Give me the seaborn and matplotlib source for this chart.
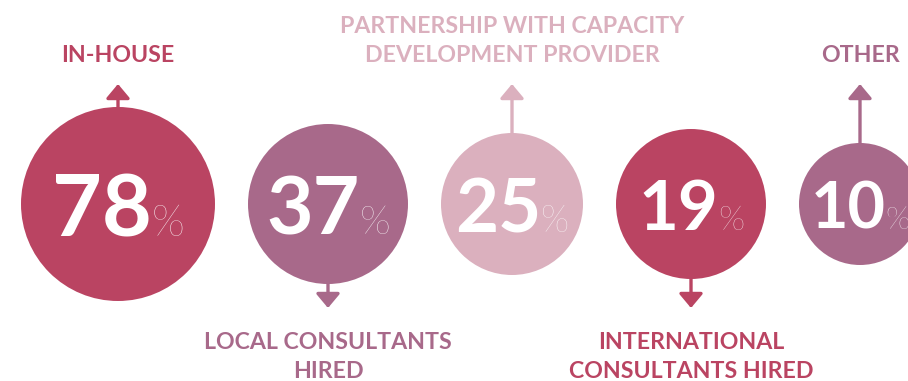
import matplotlib
matplotlib.use("Agg")
import matplotlib.pyplot as plt
import seaborn as sns
import pandas as pd

# ---- data ----
categories = ["IN-HOUSE", "LOCAL CONSULTANTS\nHIRED",
              "PARTNERSHIP WITH CAPACITY\nDEVELOPMENT PROVIDER",
              "INTERNATIONAL\nCONSULTANTS HIRED", "OTHER"]
values = [78, 37, 25, 19, 10]

# ---- style / layout ----
colors = ["#BA4462", "#A8698A", "#DBB0BE", "#BA4462", "#A8698A"]
radii_px = [97, 80, 71, 75, 61]
num_size = [62, 58, 53.5, 49.5, 46.5]
label_side = ["up", "down", "up", "down", "up"]

W, H, DPI = 908, 381, 100
sns.set_theme(style="white")
plt.rcParams["font.family"] = ["Lato", "DejaVu Sans"]

fig = plt.figure(figsize=(W / DPI, H / DPI), dpi=DPI)
ax = fig.add_axes([0, 0, 1, 1])
ax.set_xlim(0, W)
ax.set_ylim(H, 0)
ax.axis("off")

# circle centres: packed left to right with a constant gap
gap, left, cy = 33, 21, 204
cxs = []
x = left
for r in radii_px:
    cxs.append(x + r)
    x += 2 * r + gap

df = pd.DataFrame({"cat": categories, "value": values, "x": cxs, "y": [cy] * len(values)})
sizes = {c: (2 * r * 72 / DPI) ** 2 for c, r in zip(categories, radii_px)}
palette = dict(zip(categories, colors))
sns.scatterplot(data=df, x="x", y="y", hue="cat", size="cat", sizes=sizes,
                palette=palette, linewidth=0, legend=False, ax=ax, alpha=1)

renderer = fig.canvas.get_renderer()
for cx, v, fs, col, r, lab, side in zip(cxs, values, num_size, colors, radii_px,
                                          categories, label_side):
    em = fs * DPI / 72
    base = cy + 1.5 + 0.36 * em
    t1 = ax.text(cx, base, f"{v}", fontsize=fs, fontweight="bold", color="white",
                 ha="left", va="baseline")
    t2 = ax.text(cx, base, "%", fontsize=fs * 0.5, fontweight="light", color="white",
                 ha="left", va="baseline")
    w1 = t1.get_window_extent(renderer).width
    w2 = t2.get_window_extent(renderer).width
    g = 0
    x0 = cx - (w1 + g + w2) / 2
    t1.set_x(x0)
    t2.set_x(x0 + w1 + g)

    lines = lab.split("\n")
    if side == "up":
        ax.annotate("", xy=(cx, 84), xytext=(cx, cy - r),
                    arrowprops=dict(arrowstyle="-|>,head_length=8.6,head_width=7.2",
                                    mutation_scale=1, color=col, lw=2.4,
                                    shrinkA=0, shrinkB=0))
        bl = 62
        for i, ln in enumerate(reversed(lines)):
            ax.text(cx, bl - 29 * i, ln, fontsize=16.7, fontweight="bold", color=col,
                    ha="center", va="baseline")
    else:
        ax.annotate("", xy=(cx, 308), xytext=(cx, cy + r),
                    arrowprops=dict(arrowstyle="-|>,head_length=8.6,head_width=7.2",
                                    mutation_scale=1, color=col, lw=2.4,
                                    shrinkA=0, shrinkB=0))
        bl = 349
        for i, ln in enumerate(lines):
            ax.text(cx, bl + 29 * i, ln, fontsize=16.7, fontweight="bold", color=col,
                    ha="center", va="baseline")

fig.savefig("out.png", dpi=DPI, facecolor="white")
